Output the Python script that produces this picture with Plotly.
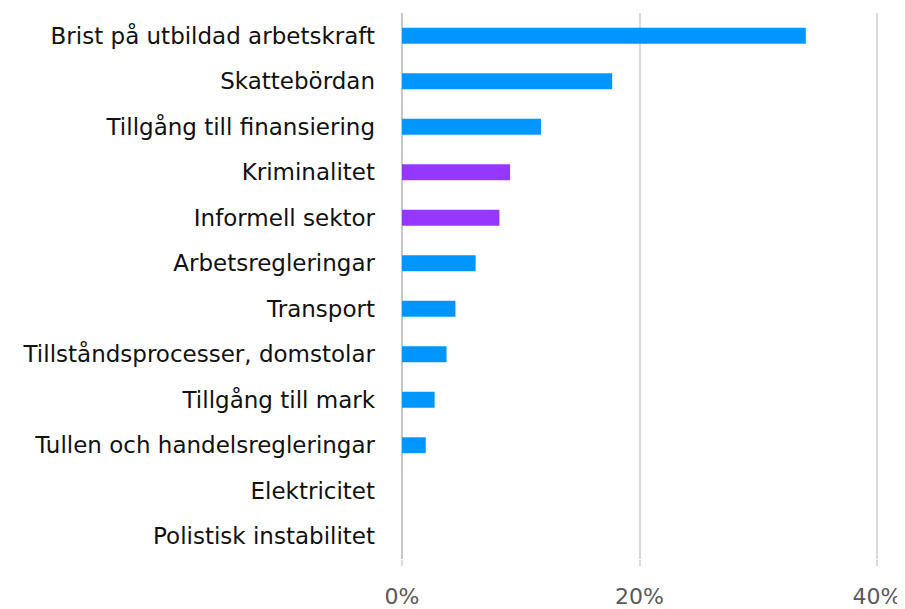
import plotly.graph_objects as go

categories = [
    "Brist på utbildad arbetskraft",
    "Skattebördan",
    "Tillgång till finansiering",
    "Kriminalitet",
    "Informell sektor",
    "Arbetsregleringar",
    "Transport",
    "Tillståndsprocesser, domstolar",
    "Tillgång till mark",
    "Tullen och handelsregleringar",
    "Elektricitet",
    "Polistisk instabilitet",
]
values = [34.0, 17.7, 11.7, 9.1, 8.2, 6.2, 4.5, 3.75, 2.75, 2.0, 0, 0]
highlight = ["Kriminalitet", "Informell sektor"]

blue = "#0096ff"
purple = "#9438ff"
colors = [purple if c in highlight else blue for c in categories]

fig = go.Figure()
fig.add_trace(go.Bar(
    y=categories,
    x=values,
    orientation="h",
    marker=dict(color=colors, line=dict(width=0)),
    width=0.35,
))

# page body adds an 8px offset, so the figure is drawn 8px smaller
fig.update_layout(
    width=897,
    height=601,
    margin=dict(l=394, r=22, t=5, b=50),
    paper_bgcolor="white",
    plot_bgcolor="white",
    showlegend=False,
    font=dict(family="DejaVu Sans, sans-serif", color="#111111"),
    xaxis=dict(
        range=[0, 40.5],
        tickvals=[0, 20, 40],
        ticktext=["0%", "20%", "40%"],
        automargin=False,
        showgrid=True,
        gridcolor="#d9d9d9",
        gridwidth=2,
        zeroline=True,
        zerolinecolor="#c8c8c8",
        zerolinewidth=2,
        ticks="outside",
        ticklen=6,
        tickwidth=2,
        tickcolor="#d9d9d9",
        ticklabelstandoff=12,
        tickfont=dict(size=22, color="#595959"),
    ),
    yaxis=dict(
        autorange="reversed",
        automargin=False,
        showgrid=False,
        ticks="",
        ticklabelstandoff=26,
        tickfont=dict(size=23, color="#111111"),
    ),
)

fig.write_html("out.html")
